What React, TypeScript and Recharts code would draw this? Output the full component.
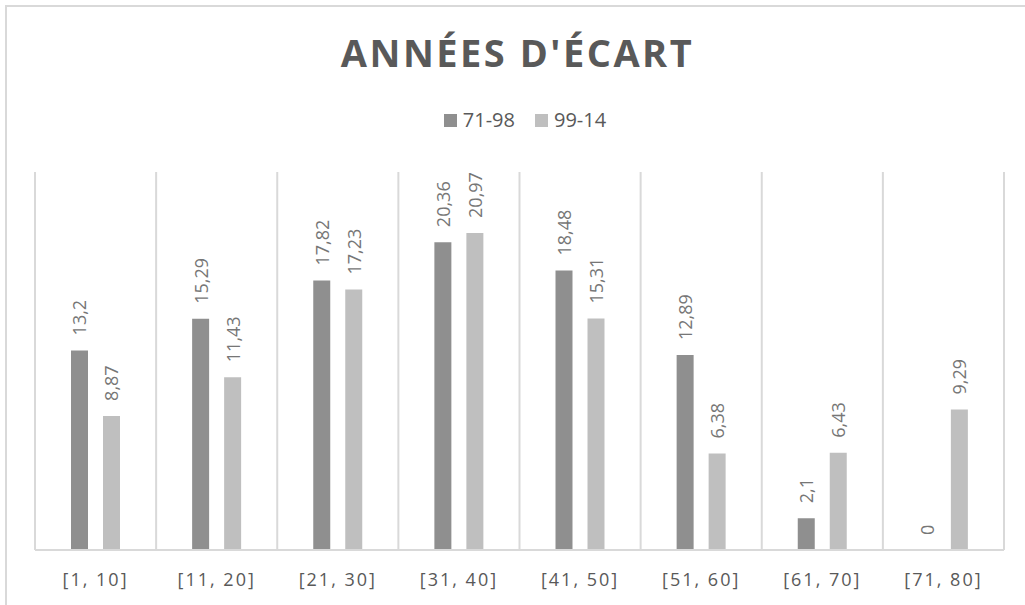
import React from "react"
import {
  BarChart,
  Bar,
  XAxis,
  YAxis,
  CartesianGrid,
  LabelList,
} from "recharts"

const CATEGORIES = [
  "[1, 10]",
  "[11, 20]",
  "[21, 30]",
  "[31, 40]",
  "[41, 50]",
  "[51, 60]",
  "[61, 70]",
  "[71, 80]",
]
const SERIES_A = [13.2, 15.29, 17.82, 20.36, 18.48, 12.89, 2.1, 0]
const SERIES_B = [8.87, 11.43, 17.23, 20.97, 15.31, 6.38, 6.43, 9.29]
const SERIES_NAMES = ["71-98", "99-14"]
const COLORS = ["#8f8f8f", "#bfbfbf"]

const data = CATEGORIES.map((c, i) => ({
  name: c,
  a: SERIES_A[i],
  b: SERIES_B[i],
}))

const FONT = "'Open Sans', 'DejaVu Sans', sans-serif"
const TEXT = "#595959"

const fmt = (v: number) => String(v).replace(".", ",")

function RotLabel(props: any) {
  const { x, y, width, height, value } = props
  if (value == null) return null
  const cx = x + width / 2
  // zero-height bars may come through with y at the baseline
  const top = height < 0 ? y + height : y
  const cy = top - 15
  return (
    <text
      x={cx}
      y={cy}
      transform={`rotate(-90, ${cx}, ${cy})`}
      textAnchor="start"
      dominantBaseline="central"
      fill="#767676"
      fontSize={18}
      fontFamily={FONT}
    >
      {fmt(value)}
    </text>
  )
}

function LegendBox() {
  return (
    <div
      style={{
        position: "absolute",
        left: 0,
        top: 106,
        width: 1050,
        display: "flex",
        justifyContent: "center",
        gap: 20,
        fontFamily: FONT,
        fontSize: 20,
        color: TEXT,
        lineHeight: "28px",
      }}
    >
      {SERIES_NAMES.map((n, i) => (
        <div key={n} style={{ display: "flex", alignItems: "center", gap: 6 }}>
          <span
            style={{
              display: "inline-block",
              width: 13,
              height: 13,
              background: COLORS[i],
            }}
          />
          <span>{n}</span>
        </div>
      ))}
    </div>
  )
}

export default function App() {
  return (
    <div
      style={{
        position: "fixed",
        left: 0,
        top: 0,
        width: 1025,
        height: 605,
        overflow: "hidden",
        background: "#fff",
      }}
    >
      <div
        style={{
          position: "absolute",
          left: 5,
          top: 5,
          width: 1100,
          height: 700,
          borderTop: "2px solid #d9d9d9",
          borderLeft: "2px solid #d9d9d9",
        }}
      />
      <div
        style={{
          position: "absolute",
          left: 0,
          top: 26,
          width: 1035,
          textAlign: "center",
          fontFamily: FONT,
          fontWeight: 700,
          fontSize: 38,
          letterSpacing: 2.5,
          color: TEXT,
        }}
      >
        ANNÉES D'ÉCART
      </div>
      <LegendBox />
      <div style={{ position: "absolute", left: 0, top: 0 }}>
        <BarChart
          width={1025}
          height={605}
          data={data}
          margin={{ top: 172, right: 21, bottom: 25, left: 35 }}
          barSize={17}
          barGap={15}
        >
          <CartesianGrid
            horizontal={false}
            stroke="#d9d9d9"
            strokeWidth={2}
            verticalCoordinatesGenerator={({ offset }: any) =>
              CATEGORIES.map((_, i) => offset.left + (i * offset.width) / CATEGORIES.length).concat(
                offset.left + offset.width
              )
            }
          />
          <XAxis
            dataKey="name"
            height={30}
            stroke="#d9d9d9"
            strokeWidth={2}
            tickLine={false}
            tick={{
              fill: TEXT,
              fontSize: 18,
              fontFamily: FONT,
              letterSpacing: 2,
            }}
            tickMargin={17}
          />
          <YAxis hide domain={[0, 25]} />
          <Bar
            dataKey="a"
            name={SERIES_NAMES[0]}
            fill={COLORS[0]}
            minPointSize={(v: number) => (v === 0 ? 0.01 : 0)}
            isAnimationActive={false}
          >
            <LabelList dataKey="a" content={RotLabel} />
          </Bar>
          <Bar
            dataKey="b"
            name={SERIES_NAMES[1]}
            fill={COLORS[1]}
            isAnimationActive={false}
          >
            <LabelList dataKey="b" content={RotLabel} />
          </Bar>
        </BarChart>
      </div>
    </div>
  )
}
